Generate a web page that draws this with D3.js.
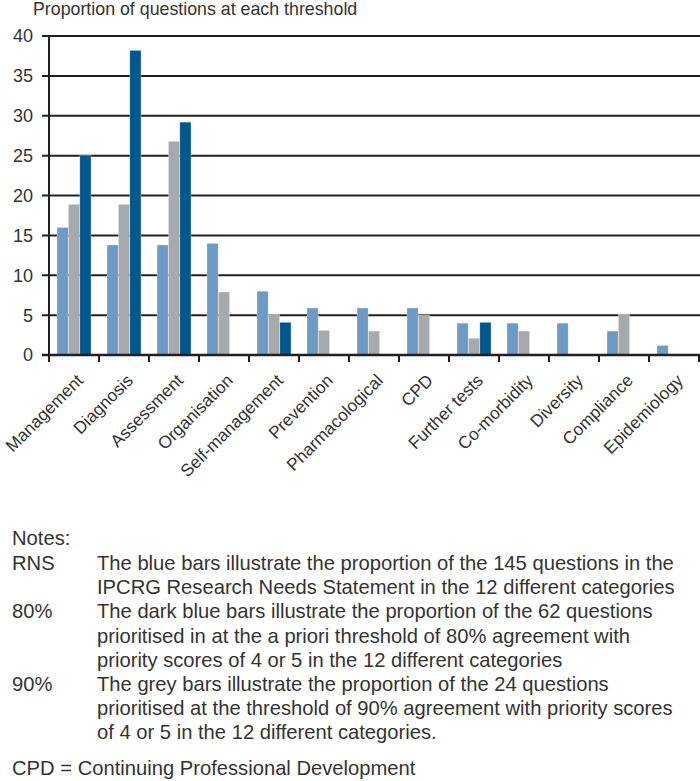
<!DOCTYPE html>
<html><head><meta charset="utf-8">
<script src="https://cdn.jsdelivr.net/npm/d3@7"></script>
<style>
body{margin:0;background:#fff;}
text{font-family:"Liberation Sans",Arial,sans-serif;fill:#333;}
</style></head><body>
<svg id="chart" width="700" height="781"></svg>
<script>
const categories = ["Management","Diagnosis","Assessment","Organisation","Self-management","Prevention","Pharmacological","CPD","Further tests","Co-morbidity","Diversity","Compliance","Epidemiology"];
const seriesNames = ["RNS","90%","80%"];
const rnsValues = [16.0,13.8,13.8,14.0,8.0,5.9,5.9,5.9,4.0,4.0,4.0,3.0,1.2];
const p90Values = [18.9,18.9,26.8,7.9,5.1,3.1,3.0,5.0,2.1,3.0,0,5.1,0];
const p80Values = [25.0,38.2,29.2,0,4.1,0,0,0,4.1,0,0,0,0];
const seriesColors = ["#6f9ac6","#a7a9ac","#00588f"];
const yTicks = [0,5,10,15,20,25,30,35,40];
const titleText = "Proportion of questions at each threshold";
const noteHeading = "Notes:";
const noteLabels = ["RNS","80%","90%"];
const noteLines = [
 ["The blue bars illustrate the proportion of the 145 questions in the","IPCRG Research Needs Statement in the 12 different categories"],
 ["The dark blue bars illustrate the proportion of the 62 questions","prioritised in at the a priori threshold of 80% agreement with","priority scores of 4 or 5 in the 12 different categories"],
 ["The grey bars illustrate the proportion of the 24 questions","prioritised at the threshold of 90% agreement with priority scores","of 4 or 5 in the 12 different categories."]
];
const footnote = "CPD = Continuing Professional Development";

const svg = d3.select("#chart");
const series = [rnsValues,p90Values,p80Values];

const x = d3.scaleBand().domain(categories).range([49,699]).paddingInner(0.32).paddingOuter(0.16);
const xs = d3.scaleBand().domain(seriesNames).range([0,x.bandwidth()]).paddingInner(0.02);
const y = d3.scaleLinear().domain([0,40]).range([355,36]);

svg.append("text").attr("x",33).attr("y",15).attr("font-size",17.8).text(titleText);

// gridlines
svg.append("g").selectAll("line").data(yTicks).join("line")
  .attr("x1",42).attr("x2",700).attr("y1",d=>y(d)).attr("y2",d=>y(d))
  .attr("stroke","#231f20").attr("stroke-width",2);

// y labels
svg.append("g").selectAll("text").data(yTicks).join("text")
  .attr("x",33).attr("y",d=>y(d)).attr("dy","0.36em").attr("text-anchor","end")
  .attr("font-size",18).text(d=>d);

// bars
const groups = svg.append("g").selectAll("g").data(categories).join("g")
  .attr("transform",d=>`translate(${x(d)},0)`);
groups.selectAll("rect").data((d,i)=>seriesNames.map((s,j)=>({s,v:series[j][i],c:seriesColors[j]})))
  .join("rect")
  .attr("x",d=>xs(d.s)).attr("width",xs.bandwidth())
  .attr("y",d=>y(d.v)).attr("height",d=>y(0)-y(d.v))
  .attr("fill",d=>d.c).attr("stroke","rgba(255,255,255,0.5)").attr("stroke-width",0.6);

// y axis line
svg.append("line").attr("x1",49).attr("x2",49).attr("y1",36).attr("y2",362).attr("stroke","#231f20").attr("stroke-width",2);
// baseline
svg.append("line").attr("x1",42).attr("x2",700).attr("y1",y(0)).attr("y2",y(0)).attr("stroke","#231f20").attr("stroke-width",2.5);
// x ticks at band boundaries
const boundaries = d3.range(categories.length+1).map(i=>x.range()[0]+i*x.step());
svg.append("g").selectAll("line").data(boundaries).join("line")
  .attr("x1",d=>d).attr("x2",d=>d).attr("y1",y(0)).attr("y2",y(0)+7)
  .attr("stroke","#231f20").attr("stroke-width",2);

// x labels
svg.append("g").selectAll("text").data(categories).join("text")
  .attr("transform",d=>`translate(${x(d)+x.bandwidth()/2+1.5},${373}) rotate(-45)`)
  .attr("text-anchor","end").attr("font-size",17.3).attr("dy","0.7em").text(d=>d);

// notes
const nfs = 20.2;
svg.append("text").attr("x",12).attr("y",545).attr("font-size",nfs).text(noteHeading);
let ly = 570;
noteLabels.forEach((lab,i)=>{
  svg.append("text").attr("x",12).attr("y",ly).attr("font-size",nfs).text(lab);
  noteLines[i].forEach((t,k)=>{
    svg.append("text").attr("x",97).attr("y",ly+k*24.2).attr("font-size",nfs).text(t);
  });
  ly += noteLines[i].length*24.2;
});
svg.append("text").attr("x",12).attr("y",775).attr("font-size",nfs).text(footnote);
</script></body></html>
